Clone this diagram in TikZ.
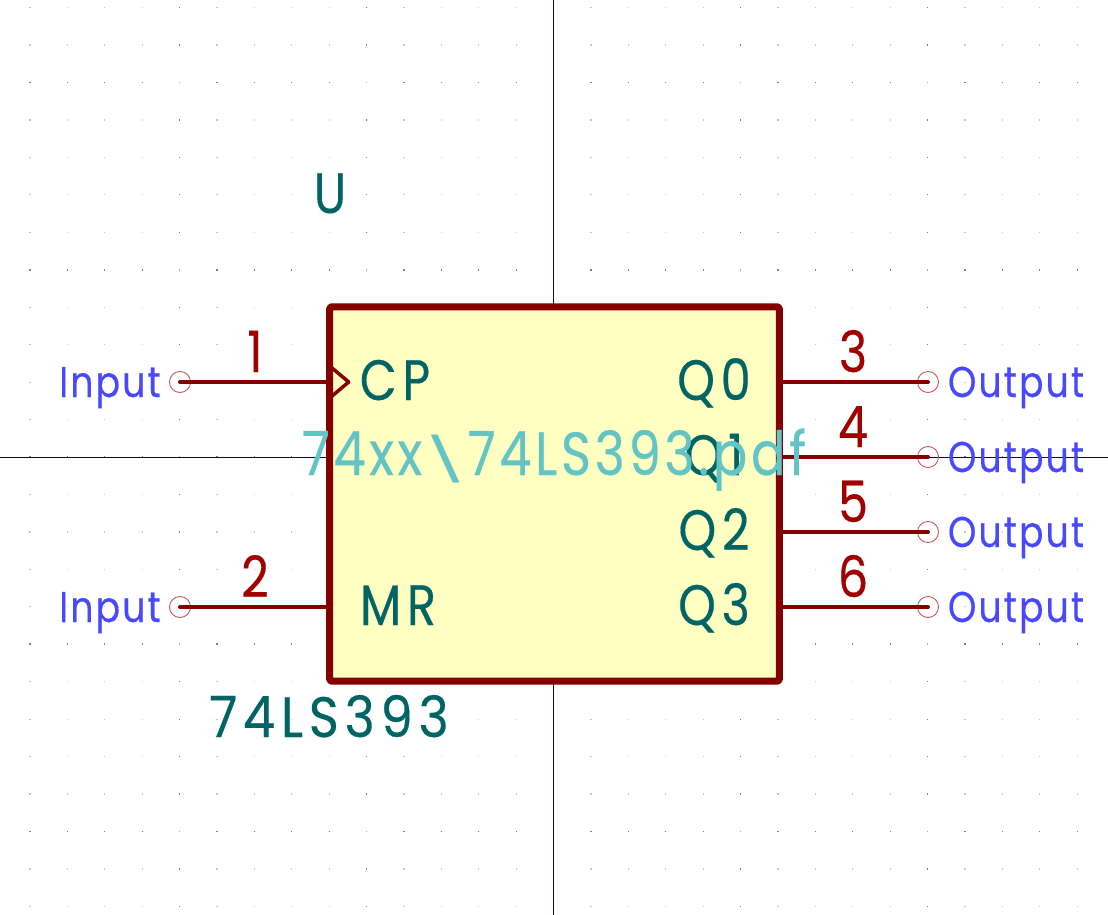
\documentclass[tikz,border=0pt]{standalone}
\usepackage{graphicx}
\usepackage{fontspec}
\setmainfont{Poppins}[FakeBold=0.3,FakeStretch=0.84,LetterSpace=10]
\newfontfamily\valfont{Poppins}[FakeBold=0.3,FakeStretch=0.9,LetterSpace=10]
\newfontfamily\elecfont{Poppins}[FakeBold=0.3,FakeStretch=0.84,LetterSpace=5]
\newfontfamily\docfont{Poppins}[FakeBold=0.3,FakeStretch=0.84,LetterSpace=6]
\definecolor{pinred}{RGB}{132,0,0}
\definecolor{numred}{RGB}{160,0,0}
\definecolor{teal}{RGB}{0,100,100}
\definecolor{elec}{RGB}{72,72,255}
\definecolor{sheet}{RGB}{255,255,194}
\definecolor{docs}{RGB}{98,196,196}
\definecolor{termc}{RGB}{196,90,90}
\definecolor{cross}{RGB}{10,10,60}
\tikzset{
  x=1pt,y=-1pt,
  every node/.style={inner sep=0pt,outer sep=0pt},
  pinline/.style={draw=pinred,line width=4pt,line cap=round},
  terminal/.style={circle,draw=termc,line width=0.9pt,minimum size=21pt,anchor=center},
  chipbody/.style={draw=pinred,fill=sheet,line width=7pt,rounded corners=1.5pt,line join=round,anchor=center},
  clockmark/.style={draw=pinred,line width=3.5pt,line join=round},
  numtext/.style={anchor=base,text=numred,font=\fontsize{57}{57}\selectfont},
  nametext/.style={anchor=base,text=teal,font=\fontsize{57}{57}\selectfont},
  valtext/.style={anchor=base,text=teal,font=\fontsize{57}{57}\selectfont\valfont},
  electext/.style={anchor=base,text=elec,font=\fontsize{43}{43}\selectfont\elecfont},
  doctext/.style={anchor=base,text=docs,font=\fontsize{61}{61}\selectfont\docfont},
  crossline/.style={draw=cross,line width=0.9pt},
}
\begin{document}
\begin{tikzpicture}
\useasboundingbox (0,0) rectangle (1108,915);
\fill[white] (0,0) rectangle (1108,915);
% grid dots
\foreach \i in {-14,...,14}{
  \foreach \j in {-12,...,12}{
    \pgfmathsetmacro{\gx}{553.5+37.4*\i}
    \pgfmathsetmacro{\gy}{457+37.45*\j}
    \fill[black!22] (\gx-0.6,\gy-0.6) rectangle (\gx+0.6,\gy+0.6);
  }
}
\foreach \i in {-10,-5,0,5,10}{
  \foreach \j in {-12,...,12}{
    \pgfmathsetmacro{\gx}{553.5+37.4*\i}
    \pgfmathsetmacro{\gy}{457+37.45*\j}
    \fill[black!50] (\gx-0.9,\gy-0.6) rectangle (\gx+0.9,\gy+0.6);
  }
}
\foreach \j in {-10,-5,0,5,10}{
  \foreach \i in {-14,...,14}{
    \pgfmathsetmacro{\gx}{553.5+37.4*\i}
    \pgfmathsetmacro{\gy}{457+37.45*\j}
    \fill[black!50] (\gx-0.6,\gy-0.9) rectangle (\gx+0.6,\gy+0.9);
  }
}
\foreach \i in {-10,-5,0,5,10}{
  \foreach \j in {-10,-5,0,5,10}{
    \pgfmathsetmacro{\gx}{553.5+37.4*\i}
    \pgfmathsetmacro{\gy}{457+37.45*\j}
    \fill[black!33] (\gx-0.9,\gy-0.9) rectangle (\gx+0.9,\gy+0.9);
  }
}
% crosshair
\coordinate (ct) at (553.5,0); \coordinate (cb) at (553.5,915);
\coordinate (cl) at (0,457); \coordinate (cr) at (1108,457);
\draw[crossline] (ct) -- (cb);
\draw[crossline] (cl) -- (cr);
% body
\node[chipbody,minimum width=449.6pt,minimum height=374.3pt] (chip) at (554.5,494) {};
% terminals
\node[terminal] (t1) at (180,382) {};
\node[terminal] (t2) at (180,607) {};
\node[terminal] (t3) at (928,382) {};
\node[terminal] (t4) at (928,457) {};
\node[terminal] (t5) at (928,532) {};
\node[terminal] (t6) at (928,607) {};
% pin ends on the body
\coordinate (p1) at (chip.west |- t1);
\coordinate (p2) at (chip.west |- t2);
\coordinate (p3) at (chip.east |- t3);
\coordinate (p4) at (chip.east |- t4);
\coordinate (p5) at (chip.east |- t5);
\coordinate (p6) at (chip.east |- t6);
\draw[pinline] (t1.center) -- (p1);
\draw[pinline] (t2.center) -- (p2);
\draw[pinline] (t3.center) -- (p3);
\draw[pinline] (t4.center) -- (p4);
\draw[pinline] (t5.center) -- (p5);
\draw[pinline] (t6.center) -- (p6);
% clock
\draw[clockmark] ([yshift=-16pt]p1) -- ([xshift=19pt]p1) -- ([yshift=16pt]p1);
% texts
\node[nametext] (u) at (330,213) {U};
\node[nametext] (cp) at (395,400) {CP};
\node[nametext] (mr) at (398,625) {MR};
\node[nametext] (q0) at (714,400) {Q0};
\node[nametext] (q1) at (714,475) {Q1};
\node[nametext] (q2) at (714,550) {Q2};
\node[nametext] (q3) at (714,625) {Q3};
\node[valtext] (val) at (329,737) {74LS393};
\node[numtext] (n1) at (255,372) {1};
\node[numtext] (n2) at (255,597) {2};
\node[numtext] (n3) at (853,372) {3};
\node[numtext] (n4) at (853,447) {4};
\node[numtext] (n5) at (853,522) {5};
\node[numtext] (n6) at (853,597) {6};
\node[electext] (e1) at (110,397) {Input};
\node[electext] (e2) at (110,622) {Input};
\node[electext] (e3) at (1016,397) {Output};
\node[electext] (e4) at (1016,472) {Output};
\node[electext] (e5) at (1016,547) {Output};
\node[electext] (e6) at (1016,622) {Output};
\node[doctext] (doc) at (554,475) {74xx\scalebox{1.35}[0.7]{\textbackslash}74LS393.pdf};
\end{tikzpicture}
\end{document}
